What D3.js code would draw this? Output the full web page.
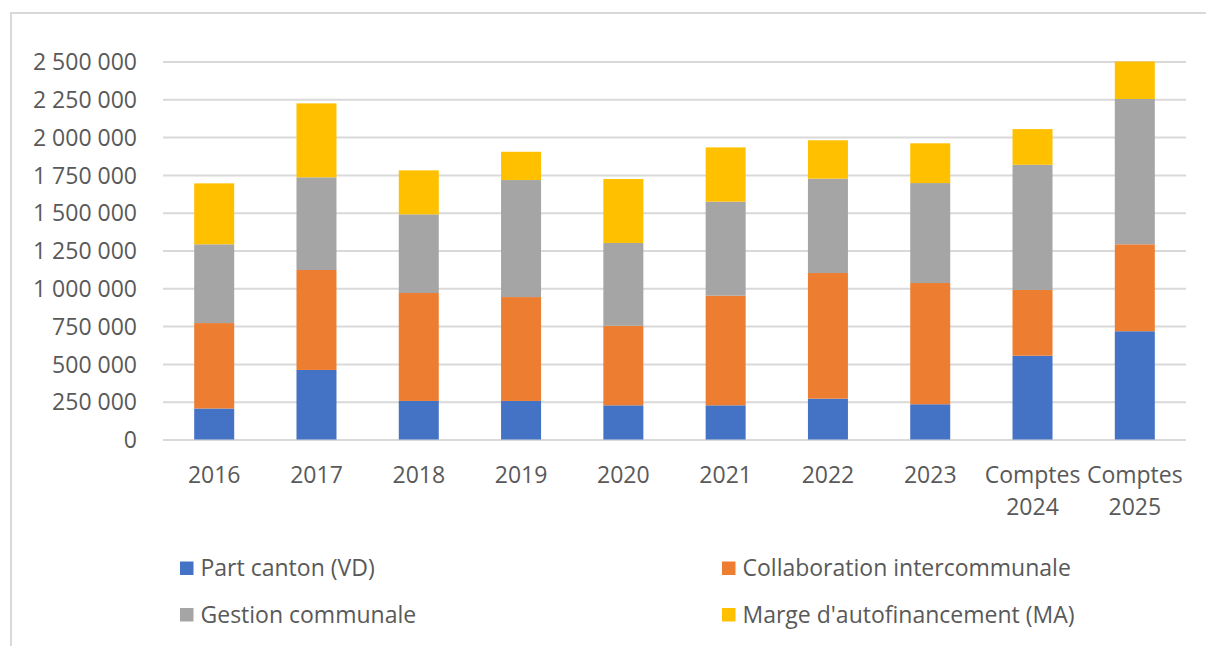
<!DOCTYPE html>
<html lang="fr">
<head>
    <meta charset="utf-8">
    <script type="text/javascript" src="https://d3js.org/d3.v7.min.js"></script>
</head>
<style type="text/css">
    body{
      margin:0;
      background:#fff;
    }
    text{
      font-family:"Open Sans", sans-serif;
      fill:#595959;
    }
</style>
<body>
  <script type="text/javascript">

// values
var categories = ["2016","2017","2018","2019","2020","2021","2022","2023","Comptes 2024","Comptes 2025"];
var seriesNames = ["Part canton (VD)","Collaboration intercommunale","Gestion communale","Marge d'autofinancement (MA)"];
var seriesColors = ["#4472C4","#ED7D31","#A5A5A5","#FFC000"];
var partCanton      = [205000, 460000, 255000, 255000, 226000, 226000, 270000, 233000, 554000, 716000];
var collaboration   = [565000, 661000, 714000, 687000, 526000, 725000, 831000, 802000, 435000, 575000];
var gestion         = [521000, 613000, 520000, 774000, 548000, 622000, 624000, 661000, 828000, 961000];
var marge           = [403000, 489000, 291000, 187000, 423000, 359000, 254000, 263000, 236000, 248000];
var yTicks = [0,250000,500000,750000,1000000,1250000,1500000,1750000,2000000,2250000,2500000];

var w = 1206;
var h = 646;
var svgMain = d3.select("body").append("svg")
  .attr("width",w).attr("height",h);

// chart frame (only left and top edges are visible)
svgMain.append("path")
  .attr("d","M11,646V13H1206")
  .attr("fill","none")
  .attr("stroke","#d9d9d9")
  .attr("stroke-width",2);

// plot area (window.top is reserved, so other names here)
var plotL = 163, plotR = 1186, plotT = 61.5, plotB = 439.5;

var x = d3.scaleBand().domain(categories).range([plotL,plotR])
  .paddingInner(0.609).paddingOuter(0.305);
var y = d3.scaleLinear().domain([0,2500000]).range([plotB,plotT]);

var fmt = function(v){ return d3.format(",")(v).replace(/,/g," "); };

// y axis + gridlines
var yAxis = svgMain.append("g")
  .attr("transform","translate("+plotL+",0)")
  .call(d3.axisLeft(y).tickValues(yTicks).tickFormat(fmt)
    .tickSizeInner(-(plotR-plotL)).tickSizeOuter(0).tickPadding(26));
yAxis.select(".domain").remove();
yAxis.selectAll("line").attr("stroke","#d9d9d9").attr("stroke-width",2);
yAxis.selectAll("text")
  .attr("font-size","23px")
  .attr("fill","#595959")
  .attr("font-family","'Open Sans', sans-serif")
  .attr("dy","0.36em");

// x axis labels
var xAxis = svgMain.append("g")
  .attr("transform","translate(0,"+plotB+")")
  .call(d3.axisBottom(x).tickSize(0));
xAxis.select(".domain").remove();
xAxis.selectAll("text").each(function(d){
  var t = d3.select(this);
  t.text(null).attr("y",0).attr("dy",null)
    .attr("font-size","23px")
    .attr("fill","#595959")
    .attr("font-family","'Open Sans', sans-serif");
  d.split(" ").forEach(function(part,i){
    t.append("tspan").attr("x",0).attr("y",43.5+i*32).text(part);
  });
});

// stacked bars
var rows = categories.map(function(c,i){
  return {cat:c, s0:partCanton[i], s1:collaboration[i], s2:gestion[i], s3:marge[i]};
});
var stack = d3.stack().keys(["s0","s1","s2","s3"]);
var layers = stack(rows);

svgMain.append("g").selectAll("g")
  .data(layers)
  .enter().append("g")
  .attr("fill",function(d,i){ return seriesColors[i]; })
  .selectAll("rect")
  .data(function(d){ return d; })
  .enter().append("rect")
  .attr("x",function(d){ return x(d.data.cat); })
  .attr("width",x.bandwidth())
  .attr("y",function(d){ return y(d[1]); })
  .attr("height",function(d){ return y(d[0]) - y(d[1]); });

// legend, two columns
var legendPos = [[180,568],[722,568],[180,614.5],[722,614.5]];
var legend = svgMain.append("g").selectAll("g")
  .data(seriesNames)
  .enter().append("g")
  .attr("transform",function(d,i){ return "translate("+legendPos[i][0]+","+legendPos[i][1]+")"; });
legend.append("rect")
  .attr("x",0).attr("y",-6.5)
  .attr("width",13.5).attr("height",13.5)
  .attr("fill",function(d,i){ return seriesColors[i]; });
legend.append("text")
  .attr("x",20.5).attr("y",0).attr("dy","0.36em")
  .attr("font-size","23px")
  .text(function(d){ return d; });
  </script>
</body>
</html>
